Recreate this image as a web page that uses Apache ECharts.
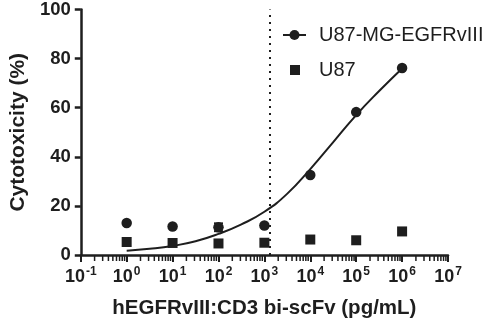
<!DOCTYPE html>
<html>
<head>
<meta charset="utf-8">
<script src="https://cdn.jsdelivr.net/npm/echarts@6/dist/echarts.min.js"></script>
<style>
  html, body { margin: 0; padding: 0; background: #fff; }
  #chart { width: 489px; height: 324px; }
</style>
</head>
<body>
<div id="chart"></div>
<script>
// Dose (pg/mL) for each measured condition
const doses = [1, 10, 100, 1000, 10000, 100000, 1000000];
// Mean cytotoxicity (%) per cell line
const egfrCells = [13.0, 11.6, 11.3, 12.0, 32.6, 58.2, 76.2];
const egfrErr = [0, 0, 1.6, 0, 0, 0, 0];
const u87Cells = [5.3, 4.9, 4.7, 5.0, 6.3, 6.0, 9.6];

// Fitted dose-response curve for U87-MG-EGFRvIII, sampled every half decade
const fitDoses = [1, 3.16, 10, 31.6, 100, 316, 1000, 3162, 10000, 31623, 100000, 316228, 1000000];
const fitValues = [1.7, 2.5, 3.7, 5.6, 8.6, 12.5, 17.6, 25.0, 35.0, 46.0, 57.0, 66.8, 76.0];

// Vertical reference dose (dotted line)
const referenceDose = 1320;

// Axis ranges
const xMin = 0.1, xMax = 1e7;
const yTicks = [0, 20, 40, 60, 80, 100];

// Minor tick positions on the log axis: 2..9 × each decade
const minorTickValues = [];
for (let e = -1; e < 7; e++) {
  for (let m = 2; m <= 9; m++) minorTickValues.push(m * Math.pow(10, e));
}

const FONT = 'Liberation Sans, Arial, Helvetica, sans-serif';
const INK = '#1e1e1e';

const chart = echarts.init(document.getElementById('chart'), null, { renderer: 'canvas' });

const zip = (xs, ys) => xs.map((x, i) => [x, ys[i]]);

chart.setOption({
  animation: false,
  backgroundColor: '#fff',
  grid: { left: 73, right: 41, top: 8.5, bottom: 65.5, containLabel: false },
  legend: [
    {
      data: ['U87-MG-EGFRvIII'],
      left: 277, top: 20,
      itemWidth: 23, itemHeight: 12.5,
      textStyle: { fontFamily: FONT, fontSize: 20, color: INK, padding: [0, 0, 0, 8] },
      selectedMode: false
    },
    {
      data: ['U87'],
      left: 285, top: 55,
      itemWidth: 10, itemHeight: 10,
      textStyle: { fontFamily: FONT, fontSize: 20, color: INK, padding: [0, 0, 0, 14] },
      selectedMode: false
    }
  ],
  xAxis: {
    type: 'log',
    logBase: 10,
    min: xMin,
    max: xMax,
    interval: 1,
    name: 'hEGFRvIII:CD3 bi-scFv (pg/mL)',
    nameLocation: 'middle',
    nameGap: 43,
    nameTextStyle: { fontFamily: FONT, fontSize: 20.5, fontWeight: 'bold', color: INK },
    axisLine: { onZero: false, lineStyle: { color: INK, width: 2.5 } },
    axisTick: { show: true, inside: false, length: 7, lineStyle: { color: INK, width: 2 } },
    splitLine: { show: false },
    axisLabel: {
      margin: 11,
      color: INK,
      formatter: function (v) {
        const e = Math.round(Math.log10(v));
        return '{b|10}{s|' + e + '}';
      },
      rich: {
        b: { fontFamily: FONT, fontSize: 18, fontWeight: 'bold', color: INK, lineHeight: 20, verticalAlign: 'bottom' },
        s: { fontFamily: FONT, fontSize: 12, fontWeight: 'bold', color: INK, lineHeight: 20, verticalAlign: 'top', padding: [0, 0, 6, 1] }
      }
    }
  },
  yAxis: {
    type: 'value',
    min: yTicks[0],
    max: yTicks[yTicks.length - 1],
    interval: 20,
    name: 'Cytotoxicity (%)',
    nameLocation: 'middle',
    nameGap: 47,
    nameTextStyle: { fontFamily: FONT, fontSize: 21, fontWeight: 'bold', color: INK },
    axisLine: { show: true, lineStyle: { color: INK, width: 2.5 } },
    axisTick: { show: true, inside: false, length: 6, lineStyle: { color: INK, width: 2.5 } },
    splitLine: { show: false },
    axisLabel: { margin: 10, fontFamily: FONT, fontSize: 18.5, fontWeight: 'bold', color: INK }
  },
  series: [
    {
      name: 'U87-MG-EGFRvIII',
      type: 'line',
      data: zip(fitDoses, fitValues),
      smooth: 0.5,
      symbol: 'circle',
      showSymbol: false,
      lineStyle: { color: INK, width: 2 },
      itemStyle: { color: INK, opacity: 1 },
      z: 3,
      markLine: {
        silent: true,
        symbol: ['none', 'none'],
        label: { show: false },
        lineStyle: { color: INK, width: 2, type: [2, 5] },
        data: [{ xAxis: referenceDose }]
      }
    },
    {
      name: 'U87-MG-EGFRvIII',
      type: 'scatter',
      data: zip(doses, egfrCells),
      symbol: 'circle',
      symbolSize: 10.5,
      itemStyle: { color: INK, opacity: 1 },
      z: 4
    },
    {
      name: 'U87-MG-EGFRvIII-err',
      type: 'custom',
      data: doses.map((d, i) => [d, egfrCells[i] - egfrErr[i], egfrCells[i] + egfrErr[i]]).filter((r, i) => egfrErr[i] > 0),
      renderItem: function (params, api) {
        const lo = api.coord([api.value(0), api.value(1)]);
        const hi = api.coord([api.value(0), api.value(2)]);
        const half = 4.5;
        const style = { stroke: INK, lineWidth: 2 };
        return {
          type: 'group',
          children: [
            { type: 'line', shape: { x1: lo[0], y1: lo[1], x2: hi[0], y2: hi[1] }, style: style },
            { type: 'line', shape: { x1: hi[0] - half, y1: hi[1], x2: hi[0] + half, y2: hi[1] }, style: style },
            { type: 'line', shape: { x1: lo[0] - half, y1: lo[1], x2: lo[0] + half, y2: lo[1] }, style: style }
          ]
        };
      },
      z: 4
    },
    {
      name: 'U87',
      type: 'scatter',
      data: zip(doses, u87Cells),
      symbol: 'rect',
      symbolSize: 10,
      itemStyle: { color: INK, opacity: 1 },
      z: 4
    },
    {
      // minor ticks hanging below the log axis
      name: 'minor-ticks',
      type: 'scatter',
      silent: true,
      clip: false,
      data: minorTickValues.map(v => [v, 0]),
      symbol: 'rect',
      symbolSize: [1.5, 5],
      symbolOffset: [0, 3.5],
      itemStyle: { color: INK, opacity: 1 },
      z: 1
    }
  ]
});
</script>
</body>
</html>
